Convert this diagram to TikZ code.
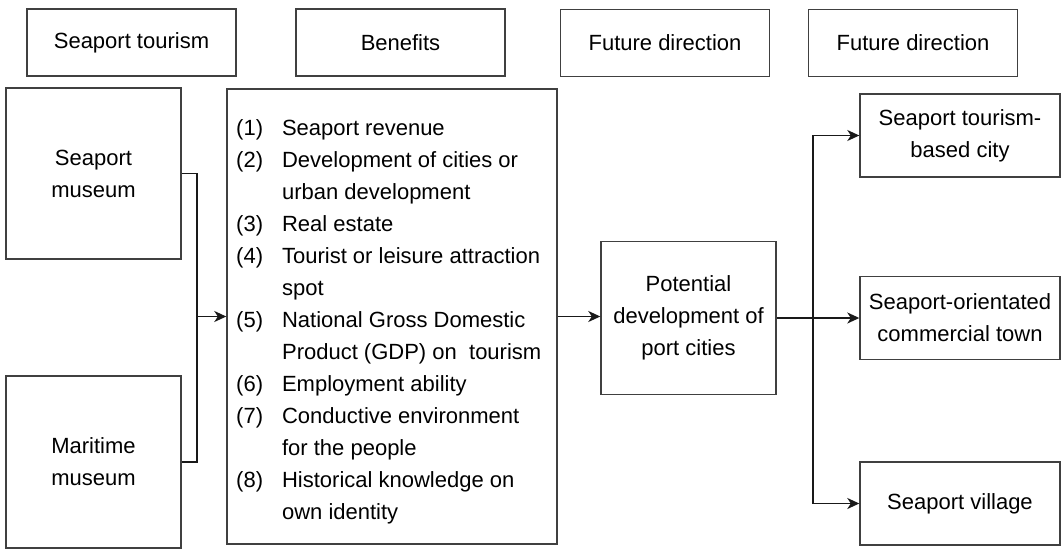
\documentclass[tikz,border=0pt]{standalone}
\usepackage{fontspec}
\setmainfont{Liberation Sans}
\usetikzlibrary{arrows.meta,positioning}

\begin{document}
\begin{tikzpicture}[x=1pt,y=-1pt,
    font=\fontsize{22}{32}\selectfont,
    box/.style={draw=black!75,line width=1.4pt,align=center,inner sep=2pt},
    arrow/.style={draw=black!90,line width=1.6pt,-{Stealth[length=12pt,width=11pt,inset=3.5pt]}},
    link/.style={draw=black!90,line width=1.6pt}]
  \useasboundingbox (0,0) rectangle (1062,551);

  \node[box,minimum width=209pt,minimum height=67pt] (HeadTourism) at (131.5,42.5) {Seaport tourism};
  \node[box,minimum width=209pt,minimum height=67pt] (HeadBenefits) at (400.5,42.5) {Benefits};
  \node[box,minimum width=209pt,minimum height=67pt] (HeadFuture) at (665,43) {Future direction};
  \node[box,minimum width=209pt,minimum height=67pt] (HeadFuture2) at (913,43) {Future direction};

  \node[box,minimum width=175pt,minimum height=171pt] (Seaport) at (93.5,173.5) {Seaport\\museum};
  \node[box,minimum width=175pt,minimum height=172pt] (Maritime) at (93.5,462) {Maritime\\museum};

  \node[box,minimum width=330pt,minimum height=455pt] (Benefits) at (392,316.5) {};
  \node[anchor=north west,inner sep=0pt,align=left] (List) at (236,112.6) {%
    \begin{tabular}{@{}l@{\hspace{19pt}}l@{}}
      (1) & Seaport revenue\\
      (2) & Development of cities or\\
          & urban development\\
      (3) & Real estate\\
      (4) & Tourist or leisure attraction\\
          & spot\\
      (5) & National Gross Domestic\\
          & Product (GDP) on~ tourism\\
      (6) & Employment ability\\
      (7) & Conductive environment\\
          & for the people\\
      (8) & Historical knowledge on\\
          & own identity
    \end{tabular}};

  \node[box,minimum width=175pt,minimum height=153pt] (Potential) at (688.5,318) {Potential\\development of\\port cities};

  \node[box,minimum width=200pt,minimum height=83pt] (City) at (960,135.5) {Seaport tourism-\\based city};
  \node[box,minimum width=200pt,minimum height=83pt] (Town) at (960,318) {Seaport-orientated\\commercial town};
  \node[box,minimum width=200pt,minimum height=83pt] (Village) at (960,503.5) {Seaport village};

  % tourism -> benefits
  \coordinate (JoinL) at (197,316.5);
  \draw[link] (Seaport.east) -| (JoinL) |- (Maritime.east);
  \draw[arrow] (JoinL) -- (Benefits.west);

  \draw[arrow] (Benefits.east) -- (Benefits.east -| Potential.west);

  % potential -> future directions
  \coordinate (JoinR) at (813,318);
  \draw[arrow] (Potential.east) -- (Town.west);
  \draw[arrow] (JoinR) |- (City.west);
  \draw[arrow] (JoinR) |- (Village.west);
\end{tikzpicture}
\end{document}
